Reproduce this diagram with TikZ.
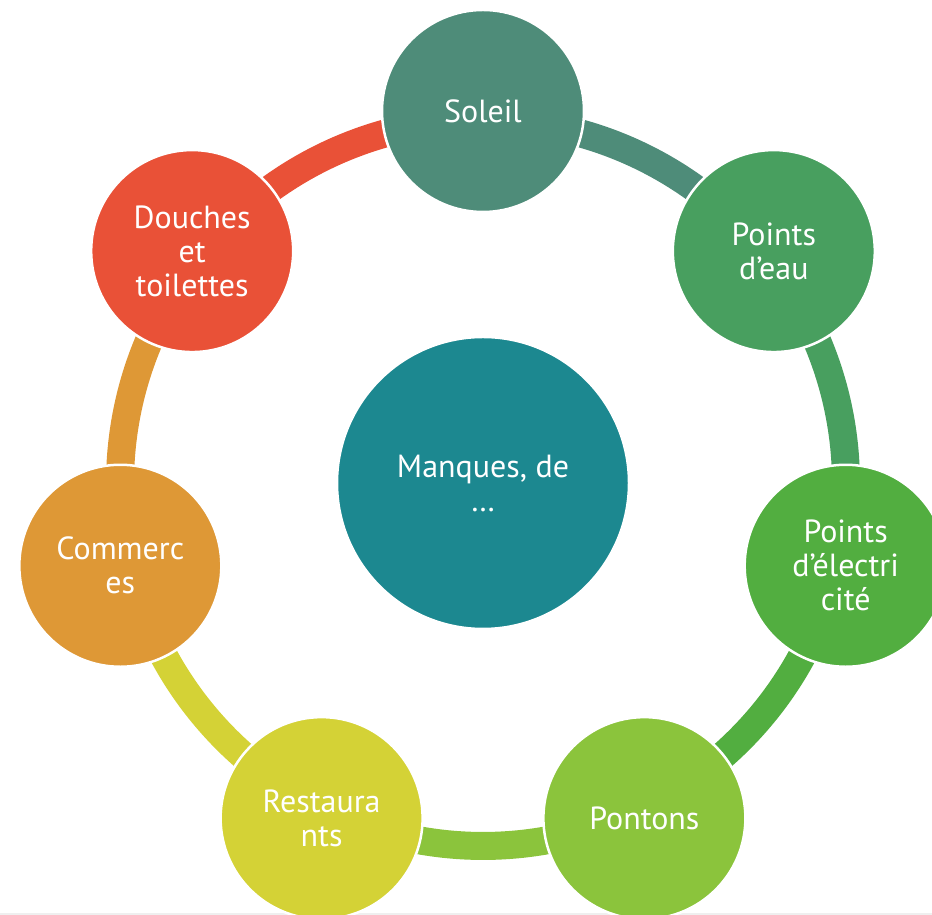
\documentclass[tikz,border=0pt]{standalone}
\usepackage{fontspec}
\setmainfont{PT Sans}
\definecolor{cSoleil}{HTML}{4E8C79}
\definecolor{cEau}{HTML}{489F5F}
\definecolor{cElec}{HTML}{52AE40}
\definecolor{cPontons}{HTML}{8BC43C}
\definecolor{cResto}{HTML}{D4D236}
\definecolor{cComm}{HTML}{DE9836}
\definecolor{cDouches}{HTML}{E95137}
\definecolor{cCenter}{HTML}{1C8890}
\definecolor{cEdge}{HTML}{EFEFEF}
\begin{document}
\begin{tikzpicture}[x=1pt,y=1pt]
\tikzset{
  ringarc/.style={line width=28pt},
  bubble/.style={circle, draw=white, line width=2.5pt, minimum size=202pt, inner sep=0pt,
    text=white, align=center, font=\fontsize{32}{34}\selectfont},
  hub/.style={bubble, minimum size=292pt}
}
\useasboundingbox (0,0) rectangle (932,915);
\fill[cEdge] (0,0) rectangle (932,2);
\coordinate (C) at (483,432);
% ring arcs
\draw[ringarc, draw=cSoleil]  (C) ++(90:363)      arc[start angle=90,      end angle=38.571,   radius=363];
\draw[ringarc, draw=cEau]     (C) ++(38.571:363)  arc[start angle=38.571,  end angle=-12.857,  radius=363];
\draw[ringarc, draw=cElec]    (C) ++(-12.857:363) arc[start angle=-12.857, end angle=-64.286,  radius=363];
\draw[ringarc, draw=cPontons] (C) ++(-64.286:363) arc[start angle=-64.286, end angle=-115.714, radius=363];
\draw[ringarc, draw=cResto]   (C) ++(-115.714:363) arc[start angle=-115.714, end angle=-167.143, radius=363];
\draw[ringarc, draw=cComm]    (C) ++(-167.143:363) arc[start angle=-167.143, end angle=-218.571, radius=363];
\draw[ringarc, draw=cDouches] (C) ++(141.429:363) arc[start angle=141.429, end angle=90, radius=363];
% nodes
\node[bubble, fill=cSoleil]  (soleil)  at ([shift={(90:372)}]C) {Soleil};
\node[bubble, fill=cEau]     (eau)     at ([shift={(38.571:372)}]C) {Points\\d’eau};
\node[bubble, fill=cElec]    (elec)    at ([shift={(-12.857:372)}]C) {Points\\d’électri\\cité};
\node[bubble, fill=cPontons] (pontons) at ([shift={(-64.286:372)}]C) {Pontons};
\node[bubble, fill=cResto]   (resto)   at ([shift={(-115.714:372)}]C) {Restaura\\nts};
\node[bubble, fill=cComm]    (comm)    at ([shift={(-167.143:372)}]C) {Commerc\\es};
\node[bubble, fill=cDouches] (douches) at ([shift={(141.429:372)}]C) {Douches\\et\\toilettes};
\node[hub, fill=cCenter]     (hubnode) at (C) {Manques, de\\…};
\end{tikzpicture}
\end{document}
